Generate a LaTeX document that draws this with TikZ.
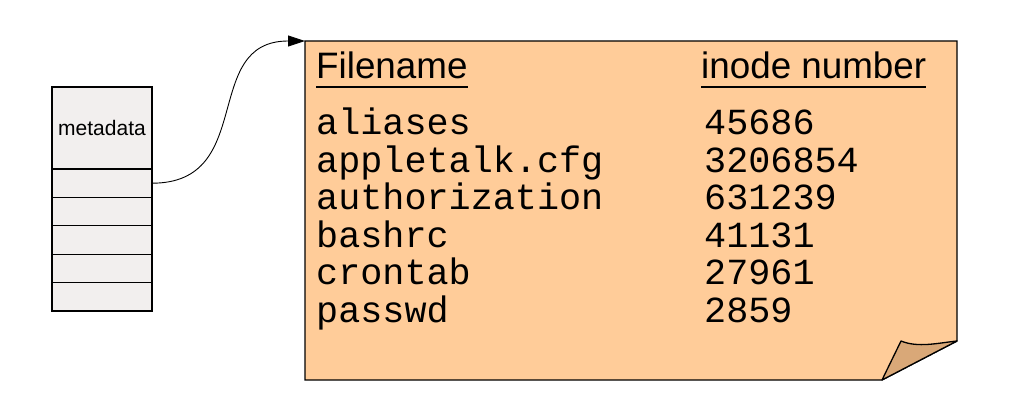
\documentclass[tikz,border=0pt]{standalone}
\usepackage{fontspec}
\setmainfont{Liberation Sans}
\setmonofont{Liberation Mono}
\usetikzlibrary{arrows.meta, positioning}
\definecolor{notefill}{HTML}{FFCC99}
\definecolor{foldfill}{HTML}{D9A878}
\definecolor{boxfill}{HTML}{F2EFEE}

\begin{document}
\begin{tikzpicture}[x=1pt, y=-1pt,
  cell/.style={draw, fill=boxfill, line width=1.1pt, minimum width=100pt,
    minimum height=28.4pt, inner sep=0pt, outer sep=0pt},
  hdr/.style={anchor=base west, inner sep=0pt, font=\fontsize{36.8}{37}\selectfont},
  entry/.style={anchor=base west, inner sep=0pt, font=\fontsize{36.8}{37}\selectfont\ttfamily}]
\useasboundingbox (0,0) rectangle (1014,409);

%% el inodo: metadata + bloques
\node[cell, minimum height=82pt, font=\fontsize{21}{21}\selectfont] (meta) at (102,128) {metadata};
\node[cell, below=0pt of meta] (blk1) {};
\foreach \i [remember=\i as \j (initially 1)] in {2,...,5}
  \node[cell, below=0pt of blk\j] (blk\i) {};

%% la hoja del directorio, con la esquina doblada
\draw[fill=notefill, line width=1.3pt] (305,41) coordinate (dirnw) -- (957,41)
  -- (957,341) coordinate (foldtop) -- (882,380) coordinate (foldbot) -- (305,380) -- cycle;
\draw[fill=foldfill, line width=1.3pt, line join=round] (foldbot) -- (901,341)
  .. controls (918,348) and (938,343) .. (foldtop) -- cycle;

%% cabeceras subrayadas
\node[hdr] (fnhead) at (316,79) {Filename};
\node[hdr] (inohead) at (701,79) {inode number};
\foreach \h in {fnhead, inohead}
  \draw[line width=1.6pt] ([yshift=-8pt]\h.base west) -- ([yshift=-8pt]\h.base east);

%% entradas del directorio
\foreach \fn/\ino [count=\k] in {aliases/45686, appletalk.cfg/3206854,
    authorization/631239, bashrc/41131, crontab/27961, passwd/2859}{
  \node[entry] (fn\k) at (316,{97.6+37.4*\k}) {\fn};
  \node[entry] (ino\k) at (704,{97.6+37.4*\k}) {\ino};
}

%% del bloque al directorio
\draw[-{Triangle[length=17pt,width=11pt]}, line width=0.9pt]
  (blk1.east) .. controls +(105,0) and +(-105,0) .. (dirnw);
\end{tikzpicture}
\end{document}
